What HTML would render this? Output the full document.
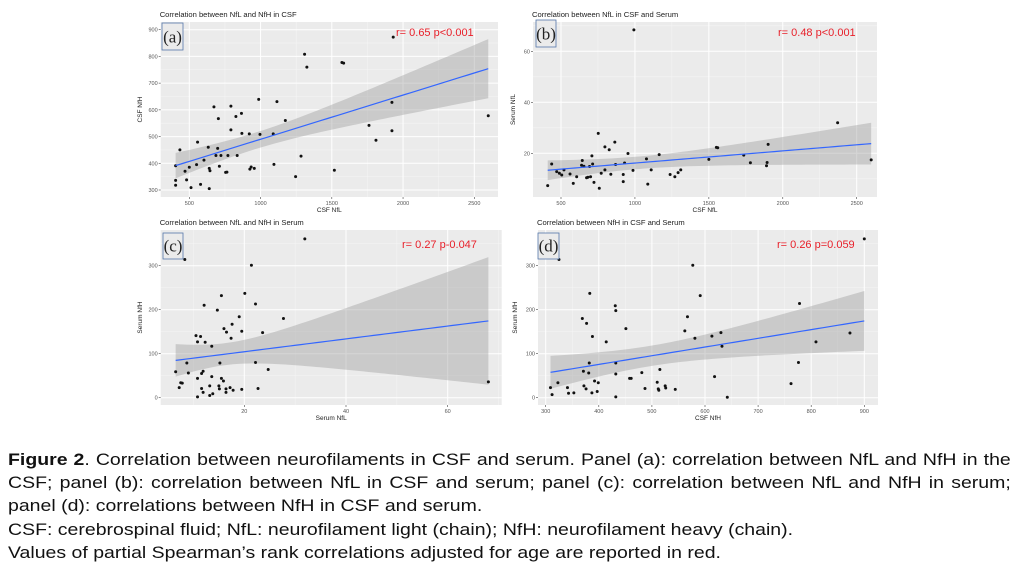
<!DOCTYPE html>
<html><head><meta charset="utf-8"><style>
html,body{margin:0;padding:0;background:#fff;width:1023px;height:574px;overflow:hidden}
#cap{position:absolute;left:8px;top:448px;width:875px;transform:scale(1.146,1);transform-origin:0 0;font-family:"Liberation Sans",Arial,sans-serif;font-size:17px;color:#111;line-height:23.2px}
#cap div{white-space:nowrap}
.j{text-align:justify;text-align-last:justify;white-space:normal!important}
</style></head><body>
<svg id="chart" width="1023" height="440" style="position:absolute;left:0;top:0" font-family="Liberation Sans, Arial, sans-serif"></svg>
<div id="cap">
<div class="j"><b>Figure 2</b>. Correlation between neurofilaments in CSF and serum. Panel (a): correlation between NfL and NfH in the</div>
<div class="j">CSF; panel (b): correlation between NfL in CSF and serum; panel (c): correlation between NfL and NfH in serum;</div>
<div>panel (d): correlations between NfH in CSF and serum.</div>
<div>CSF: cerebrospinal fluid; NfL: neurofilament light (chain); NfH: neurofilament heavy (chain).</div>
<div>Values of partial Spearman’s rank correlations adjusted for age are reported in red.</div>
</div>
<script>
const aX=[434,404,404,404,470,481,500,512,551,558,579,603,633,640,645,640,673,687,699,704,711,722,755,764,771,792,792,827,836,866,869,921,925,934,956,987,996,1089,1094,1115,1174,1246,1284,1309,1325,1518,1571,1583,1761,1810,1922,1922,1931,2598];
const aY=[450,391,336,318,370,338,385,309,395,479,321,412,460,381,372,305,611,429,456,567,389,429,366,367,429,614,525,575,429,587,512,510,378,386,381,639,508,510,396,631,560,350,427,808,760,374,777,775,542,486,628,522,872,578];
const bX=[410,437,471,489,505,520,561,583,606,644,639,655,673,682,693,700,709,714,723,752,759,772,797,797,826,837,864,869,921,921,930,953,987,993,1078,1087,1110,1164,1238,1270,1292,1310,1500,1551,1560,1736,1781,1890,1894,1901,2371,2598];
const bY=[7.3,15.8,12.8,12.2,11.5,13.5,11.9,8.2,10.8,17.2,15.3,14.9,10.4,10.6,14.8,10.8,19,15.8,8.6,27.8,6.3,12.2,22.5,13.5,21.4,11.8,24.4,15.6,11.7,8.9,16.2,19.9,13.3,68.4,17.8,7.9,13.5,19.5,11.7,10.8,12.4,13.5,17.6,22.3,22.2,19.3,16.3,15.1,16.4,23.5,32,17.4];
const cX=[6.5,7.2,7.5,7.8,8.3,8.7,9,10.5,10.8,10.8,10.8,11.4,11.6,11.6,11.9,11.9,12.1,12.3,13.2,13.2,13.6,13.6,13.8,14.7,15,15.1,15.2,15.5,15.5,15.9,16,16.4,16.4,16.5,17.2,17.4,17.6,17.8,19,19.5,19.5,20.1,21.4,22.2,22.2,22.7,23.6,24.7,27.7,31.9,68];
const cY=[59,23,34,33,314,79,56,141,127,44,2,139,55,21,60,12,210,126,5,27,117,48,9,199,27,20,79,232,44,38,157,20,12,149,23,135,167,17,184,151,19,237,301,213,80,21,148,64,180,361,36];
const dX=[309,312,323,325,341,343,353,369,371,372,376,377,381,382,383,387,388,392,397,399,414,431,432,432,432,432,451,458,461,481,487,510,512,513,515,525,526,544,562,567,577,581,591,613,618,630,632,642,762,776,778,809,873,900];
const dY=[23,7,34,314,23,10,11,180,60,27,20,169,56,79,237,11,139,38,14,34,127,209,2,198,54,79,157,44,44,57,21,35,20,17,64,27,22,19,152,184,301,135,232,140,48,148,117,1,32,80,214,127,147,361];
const aXTicks=[500,1000,1500,2000,2500], aYTicks=[300,400,500,600,700,800,900];
const bXTicks=[500,1000,1500,2000,2500], bYTicks=[20,40,60];
const cXTicks=[20,40,60], cYTicks=[0,100,200,300];
const dXTicks=[300,400,500,600,700,800,900], dYTicks=[0,100,200,300];
const rLabels=["r= 0.65 p<0.001","r= 0.48 p<0.001","r= 0.27 p-0.047","r= 0.26 p=0.059"];

const NS="http://www.w3.org/2000/svg";
const svg=document.getElementById('chart');
function mk(tag,at,parent){const e=document.createElementNS(NS,tag);for(const k in at)e.setAttribute(k,at[k]);(parent||svg).appendChild(e);return e;}
function lin(d0,d1,r0,r1){return v=>r0+(v-d0)*(r1-r0)/(d1-d0);}

function panel(p){
  const g=mk('g',{});
  
  
  const sx=lin(p.xd[0],p.xd[1],p.xr[0],p.xr[1]), sy=lin(p.yd[0],p.yd[1],p.yr[0],p.yr[1]);
  const bg=mk('rect',{x:p.box[0],y:p.box[1],width:p.box[2]-p.box[0],height:p.box[3]-p.box[1],fill:'#ebebeb'},g);
  
  
  const xs=p.xt, ys=p.yt;
  const dx=xs[1]-xs[0], dy=ys[1]-ys[0];
  for(let v=xs[0]-dx/2;v<=xs[xs.length-1]+dx;v+=dx){const X=sx(v);if(X>p.box[0]&&X<p.box[2])mk('line',{x1:X,x2:X,y1:p.box[1],y2:p.box[3],stroke:'#f6f6f6','stroke-width':0.5},g);}
  for(let v=ys[0]-dy/2;v<=ys[ys.length-1]+dy;v+=dy){const Y=sy(v);if(Y>p.box[1]&&Y<p.box[3])mk('line',{x1:p.box[0],x2:p.box[2],y1:Y,y2:Y,stroke:'#f6f6f6','stroke-width':0.5},g);}
  xs.forEach(v=>{const X=sx(v);
    const l=mk('line',{x1:X,x2:X,y1:p.box[1],y2:p.box[3],stroke:'#fff','stroke-width':1},g);
    
    
    mk('line',{x1:X,x2:X,y1:p.box[3],y2:p.box[3]+2,stroke:'#444','stroke-width':0.6},g);
    const t=mk('text',{x:X,y:p.box[3]+8,'font-size':5.5,fill:'#555','text-anchor':'middle'},g);t.textContent=v;
    
    });
  ys.forEach(v=>{const Y=sy(v);
    const l=mk('line',{x1:p.box[0],x2:p.box[2],y1:Y,y2:Y,stroke:'#fff','stroke-width':1},g);
    
    
    mk('line',{x1:p.box[0]-2,x2:p.box[0],y1:Y,y2:Y,stroke:'#444','stroke-width':0.6},g);
    const t=mk('text',{x:p.box[0]-3,y:Y+2,'font-size':5.5,fill:'#555','text-anchor':'end'},g);t.textContent=v;
    
    });
  const X=p.x,Y=p.y,n=X.length;
  const mx=X.reduce((a,b)=>a+b)/n,my=Y.reduce((a,b)=>a+b)/n;
  let sxx=0,sxy=0;for(let i=0;i<n;i++){sxx+=(X[i]-mx)**2;sxy+=(X[i]-mx)*(Y[i]-my);}
  const b=sxy/sxx,a=my-b*mx;let sse=0;for(let i=0;i<n;i++)sse+=(Y[i]-a-b*X[i])**2;
  const s=Math.sqrt(sse/(n-2)),tq=2.0;
  const x0=Math.min(...X),x1=Math.max(...X);const up=[],lo=[],ln=[];
  for(let k=0;k<=60;k++){const xv=x0+(x1-x0)*k/60,f=a+b*xv,se=s*Math.sqrt(1/n+(xv-mx)**2/sxx);
    up.push(sx(xv)+','+sy(f+tq*se));lo.unshift(sx(xv)+','+sy(f-tq*se));ln.push(sx(xv)+','+sy(f));}
  const band=mk('polygon',{points:up.concat(lo).join(' '),fill:'#999','fill-opacity':0.4},g);
  
  
  for(let i=0;i<n;i++){const c=mk('circle',{cx:sx(X[i]),cy:sy(Y[i]),r:1.5,fill:'#111'},g);
    
    }
  const fl=mk('polyline',{points:ln.join(' '),fill:'none',stroke:'#3366ff','stroke-width':1.2},g);
  
  
  const tt=mk('text',{x:p.box[0]-1,y:p.box[1]-5,'font-size':7.6,fill:'#222'},g);tt.textContent=p.title;
  
  
  const xl=mk('text',{x:(p.box[0]+p.box[2])/2,y:p.box[3]+15,'font-size':6.5,fill:'#222','text-anchor':'middle'},g);xl.textContent=p.xl;
  
  
  const yc=(p.box[1]+p.box[3])/2;
  const yl=mk('text',{x:p.ylx,y:yc,'font-size':6.5,fill:'#222','text-anchor':'middle',transform:`rotate(-90 ${p.ylx} ${yc})`},g);yl.textContent=p.yl;
  
  
  const r=mk('text',{x:p.r[0],y:p.r[1],'font-size':11,fill:'#e8202a'},g);r.textContent=p.rl;
  
  
  const lb=mk('rect',{x:p.lb[0],y:p.lb[1],width:p.lb[2],height:p.lb[3],fill:'#ebebeb',stroke:'#5577aa','stroke-width':0.8},g);
  
  
  const lt=mk('text',{x:p.lb[0]+p.lb[2]/2,y:p.lb[1]+p.lb[3]*0.72,'font-size':17,fill:'#222','text-anchor':'middle','font-family':'Liberation Serif, serif'},g);lt.textContent='('+p.id+')';
  
  
}
panel({id:'a',x:aX,y:aY,xt:aXTicks,yt:aYTicks,xd:[500,2500],xr:[189.3,474.3],yd:[300,900],yr:[190,29.7],box:[160.7,22,498,197],title:'Correlation between NfL and NfH in CSF',xl:'CSF NfL',yl:'CSF NfH',ylx:142,r:[396,36],rl:rLabels[0],lb:[162,23,21,27]});
panel({id:'b',x:bX,y:bY,xt:bXTicks,yt:bYTicks,xd:[500,2500],xr:[561,856.7],yd:[20,60],yr:[153.3,51.3],box:[533,22,877,197],title:'Correlation between NfL in CSF and Serum',xl:'CSF NfL',yl:'Serum NfL',ylx:515,r:[778,36],rl:rLabels[1],lb:[536,20,20,27]});
panel({id:'c',x:cX,y:cY,xt:cXTicks,yt:cYTicks,xd:[20,60],xr:[244.3,447.7],yd:[0,300],yr:[397.7,265.7],box:[160.7,230,501.7,405],title:'Correlation between NfL and NfH in Serum',xl:'Serum NfL',yl:'Serum NfH',ylx:142,r:[402,248],rl:rLabels[2],lb:[163,233,20,26]});
panel({id:'d',x:dX,y:dY,xt:dXTicks,yt:dYTicks,xd:[300,900],xr:[545.7,864.3],yd:[0,300],yr:[397.7,265.7],box:[538,230,878,405],title:'Correlation between NfH in CSF and Serum',xl:'CSF NfH',yl:'Serum NfH',ylx:517,r:[777,248],rl:rLabels[3],lb:[538,233,21,26]});
</script>
</body></html>
